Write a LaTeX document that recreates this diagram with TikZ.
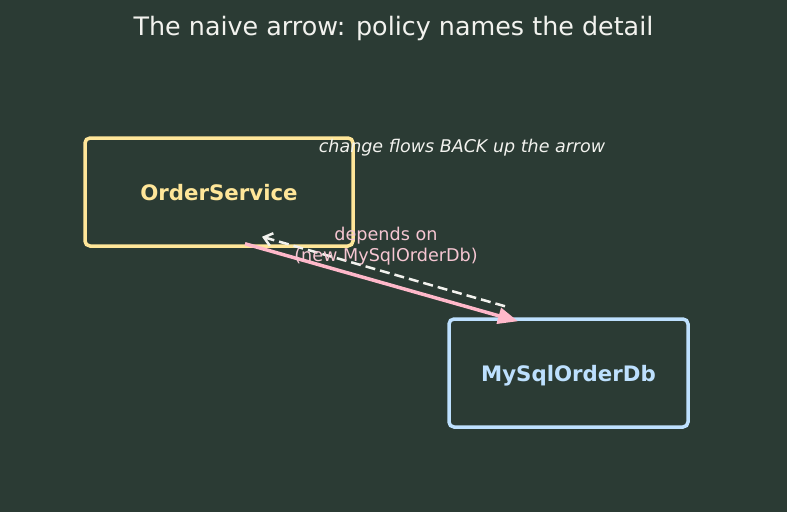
\documentclass[tikz,border=0pt]{standalone}
\usepackage{fontspec}
\setmainfont{DejaVu Sans}
\usetikzlibrary{arrows.meta,calc}
\definecolor{bg}{HTML}{2B3B34}
\definecolor{ylw}{HTML}{FFE699}
\definecolor{blu}{HTML}{BDE0FE}
\definecolor{pnk}{HTML}{FFB8CA}
\definecolor{pnktxt}{HTML}{F6C6D2}
\definecolor{wht}{HTML}{F2F2EE}
\tikzset{
  box/.style={draw, rounded corners=5pt, line width=3.5pt, minimum height=108pt, inner sep=0pt, text height=17.5pt, text depth=0pt, font=\fontsize{21.3}{25}\selectfont\bfseries},
  dep/.style={draw=pnk, line width=3.5pt, -{Triangle[length=20pt,width=16pt]}},
  back/.style={draw=wht, line width=2.5pt, dash pattern=on 10pt off 5pt, -{Straight Barb[length=8pt,width=13pt,line width=2.5pt]}},
}
\begin{document}
\begin{tikzpicture}[x=1pt,y=-1pt]
\fill[bg] (0,0) rectangle (787,512);
\useasboundingbox (0,0) rectangle (787,512);
\node[text=wht, font=\fontsize{25.4}{30}\selectfont] (title) at (393.5,28) {The naive arrow: policy names the detail};
\node[box, draw=ylw, text=ylw, minimum width=268pt] (os) at (219,192) {OrderService};
\node[box, draw=blu, text=blu, minimum width=239pt] (db) at (568.5,373) {MySqlOrderDb};
\coordinate (a1) at ($(os.south)+(26,-4)$);
\coordinate (a2) at ($(db.north)+(-50.5,4)$);
\coordinate (b1) at ($(db.north)+(-63.5,-11)$);
\coordinate (b2) at ($(os.south)+(43,-11)$);
\draw[back] (b1) -- (b2);
\draw[dep] (a1) -- (a2);
\node[text=wht, font=\fontsize{17.5}{21}\selectfont\itshape] (note) at (462,148) {change flows BACK up the arrow};
\node[text=pnktxt, font=\fontsize{17.6}{21}\selectfont, align=center] (lbl) at (386,246.5) {depends on\\(new MySqlOrderDb)};
\end{tikzpicture}
\end{document}
